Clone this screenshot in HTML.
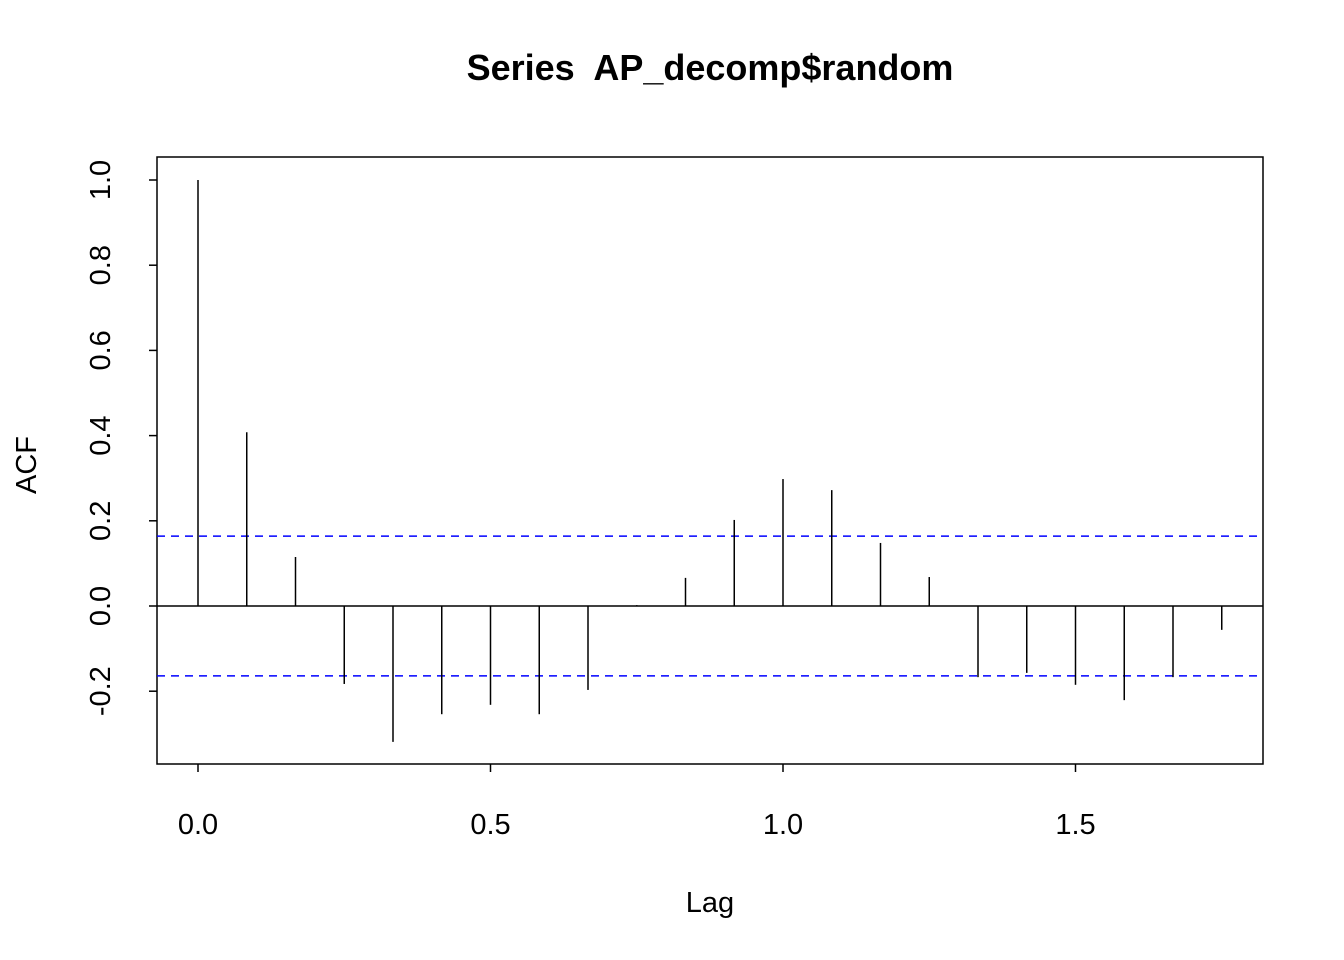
<!DOCTYPE html>
<html><head><meta charset="utf-8"><style>
body{margin:0;background:#fff}
svg{display:block;font-family:"Liberation Sans",Arial,sans-serif}
</style></head><body>
<svg id="c" width="1344" height="960">
<text x="710" y="80" text-anchor="middle" font-size="36" font-weight="bold" style="white-space:pre" xml:space="preserve">Series  AP_decomp$random</text>
<rect x="157" y="157" width="1106" height="607" fill="none" stroke="#000" stroke-width="1.5"/>
<text x="710" y="912" text-anchor="middle" font-size="29">Lag</text>
<text transform="translate(36,465) rotate(-90)" text-anchor="middle" font-size="29">ACF</text>
<g id="g"></g>
</svg>
<script>
const lagValues=[0,1,2,3,4,5,6,7,8,9,10,11,12,13,14,15,16,17,18,19,20,21];
const acfValues=[1.0,0.408,0.115,-0.183,-0.319,-0.254,-0.232,-0.254,-0.197,0.002,0.066,0.202,0.298,0.272,0.148,0.068,-0.167,-0.157,-0.185,-0.221,-0.167,-0.056];
const xTicks=[0,0.5,1,1.5];
const xTickLabels=["0.0","0.5","1.0","1.5"];
const yTicks=[-0.2,0,0.2,0.4,0.6,0.8,1.0];
const yTickLabels=["-0.2","0.0","0.2","0.4","0.6","0.8","1.0"];
const confBound=[0.164];
const freq=12;
const sx=v=>198+v*585, sy=v=>606-v*426;
const g=document.getElementById('g'),NS='http://www.w3.org/2000/svg';
function mk(t,a){const e=document.createElementNS(NS,t);for(const k in a)e.setAttribute(k,a[k]);g.appendChild(e);return e;}
let e;
e=mk('line',{x1:157,x2:1263,y1:sy(0),y2:sy(0),stroke:'#000','stroke-width':1.5});


[confBound[0],-confBound[0]].forEach(c=>{
 e=mk('line',{x1:157,x2:1263,y1:sy(c),y2:sy(c),stroke:'#0000ff','stroke-width':1.5,'stroke-dasharray':'8,6'});
 
 
});
lagValues.forEach((l,i)=>{
 e=mk('line',{x1:sx(l/freq),x2:sx(l/freq),y1:sy(0),y2:sy(acfValues[i]),stroke:'#000','stroke-width':1.5});
 
 
});
xTicks.forEach((t,i)=>{
 e=mk('line',{x1:sx(t),x2:sx(t),y1:764,y2:772,stroke:'#000','stroke-width':1.5});
 
 
 e=mk('text',{x:sx(t),y:834,'text-anchor':'middle','font-size':29});
 e.textContent=xTickLabels[i];
 
 
});
yTicks.forEach((t,i)=>{
 e=mk('line',{x1:149,x2:157,y1:sy(t),y2:sy(t),stroke:'#000','stroke-width':1.5});
 
 
 e=mk('text',{transform:`translate(110,${sy(t)}) rotate(-90)`,'text-anchor':'middle','font-size':29});
 e.textContent=yTickLabels[i];
 
 
});
</script>
</body></html>
